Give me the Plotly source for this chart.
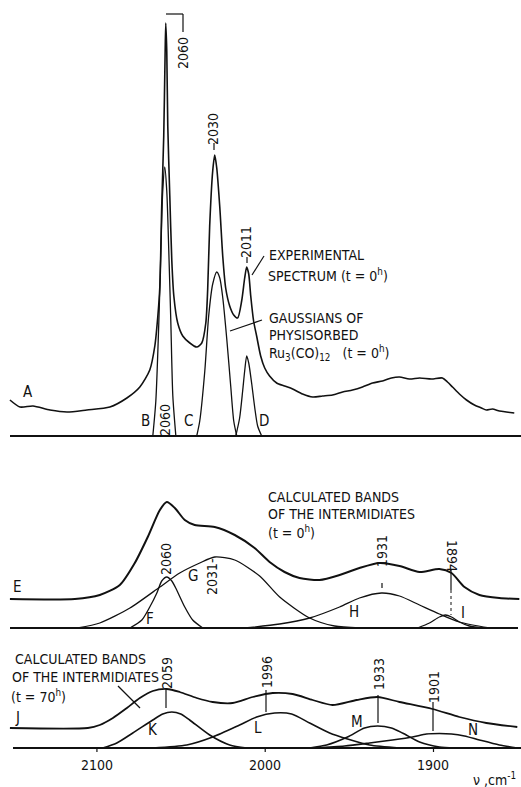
import plotly.graph_objects as go

W, H = 521, 787

# ---------------- data (wavenumber cm-1, intensity in arbitrary units) ----------------
# Panel 1: experimental spectrum A and Gaussians B, C, D of physisorbed Ru3(CO)12 (t = 0 h)
A_wn = [2151.7, 2145.7, 2138.0, 2127.9, 2117.8, 2106.0, 2092.3, 2082.2, 2074.5, 2068.6,
        2065.6, 2063.8, 2062.6, 2061.5, 2060.3, 2059.5, 2059.1, 2058.5, 2057.9, 2056.7,
        2055.5, 2054.3, 2052.0, 2049.0, 2044.8, 2040.7, 2037.7, 2035.3, 2034.2, 2033.0,
        2031.2, 2030.0, 2028.8, 2027.0, 2025.2, 2023.5, 2021.1, 2018.7, 2016.4, 2014.0,
        2012.2, 2011.0, 2009.8, 2008.6, 2006.9, 2005.1, 2002.7, 2000.3, 1997.4, 1993.2,
        1988.5, 1983.7, 1977.8, 1971.8, 1965.9, 1960.0, 1954.0, 1948.1, 1942.2, 1936.2,
        1930.3, 1925.0, 1920.2, 1914.3, 1908.3, 1901.2, 1894.7, 1891.7, 1888.7, 1884.6,
        1880.4, 1875.7, 1871.5, 1868.6, 1865.0, 1860.8, 1856.7, 1852.0]
A_int = [36, 29, 30, 26, 24, 26, 29, 38, 49, 66,
         90, 120, 150, 230, 300, 380, 413, 385, 310, 240,
         175, 140, 113, 100, 93, 89, 93, 113, 146, 210,
         265, 281, 268, 229, 179, 148, 130, 121, 118, 135,
         158, 169, 162, 140, 115, 100, 80, 68, 60, 53,
         50, 47, 42, 39, 40, 41, 44, 46, 49, 53,
         55, 58, 59, 57, 58, 57, 58, 54, 49, 42,
         36, 31, 28, 26, 27, 25, 24, 23]

B_wn = [2066.8, 2065.0, 2063.2, 2062.0, 2060.9, 2059.7, 2058.5, 2057.3, 2056.1, 2054.9, 2053.1]
B_int = [0, 35, 115, 185, 245, 269, 245, 185, 115, 40, 0]

C_wn = [2040.7, 2038.9, 2035.9, 2033.6, 2031.2, 2028.8, 2027.0, 2025.2, 2022.9, 2020.5, 2018.7, 2016.9]
C_int = [0, 15, 65, 120, 152, 164, 158, 138, 98, 50, 15, 0]

D_wn = [2017.5, 2015.2, 2013.4, 2012.2, 2011.0, 2009.8, 2008.0, 2006.2, 2004.5, 2002.1]
D_int = [0, 18, 45, 65, 80, 73, 52, 28, 10, 0]

# Panel 2: calculated bands of the intermediates (t = 0 h): envelope E, bands F, G, H, I
E_wn = [2151.7, 2113.1, 2098.3, 2086.4, 2077.5, 2069.8, 2062.6, 2058.5, 2053.7, 2047.8,
        2041.9, 2030.0, 2018.1, 2006.3, 1997.4, 1988.5, 1979.6, 1967.7, 1955.8, 1944.0,
        1932.1, 1920.2, 1908.3, 1896.5, 1889.3, 1881.6, 1872.7, 1860.9, 1849.0]
E_int = [29, 29, 33, 43, 65, 91, 118, 126, 120, 108,
         103, 101, 93, 80, 66, 56, 50, 48, 53, 60,
         65, 62, 56, 59, 55, 41, 33, 30, 29]

F_wn = [2080.4, 2073.3, 2068.6, 2064.4, 2061.5, 2058.5, 2055.5, 2052.6, 2047.8, 2043.1, 2037.1]
F_int = [0, 8, 21, 35, 47, 51, 47, 38, 21, 8, 0]

G_wn = [2111.3, 2098.3, 2080.4, 2062.6, 2050.8, 2038.9, 2030.0, 2018.1, 2003.3, 1991.4, 1973.6, 1958.8, 1943.9]
G_int = [0, 5, 20, 41, 55, 65, 71, 68, 52, 31, 10, 2, 0]

H_wn = [2012.2, 1991.4, 1973.6, 1955.8, 1944.0, 1930.9, 1920.2, 1908.3, 1896.5, 1884.6, 1866.8]
H_int = [0, 4, 10, 21, 30, 35, 32, 23, 14, 6, 0]

I_wn = [1909.5, 1902.4, 1896.5, 1892.9, 1889.3, 1884.6, 1878.7, 1869.8]
I_int = [0, 5, 11, 13, 11, 6, 2, 0]

# Panel 3: calculated bands of the intermediates (t = 70 h): envelope J, bands K, L, M, N
J_wn = [2151.7, 2105.4, 2098.3, 2090.5, 2082.2, 2074.5, 2066.8, 2058.5, 2050.8, 2040.7,
        2031.2, 2019.3, 2007.4, 1995.6, 1983.7, 1971.8, 1960.0, 1945.7, 1933.3, 1920.2,
        1900.6, 1884.6, 1868.6, 1850.2]
J_int = [20, 20, 23, 30, 40, 50, 57, 59, 56, 50,
         46, 45, 51, 55, 54, 48, 43, 48, 51, 46,
         39, 31, 25, 21]

K_wn = [2096.5, 2088.2, 2078.7, 2066.8, 2060.9, 2055.5, 2050.2, 2044.9, 2033.0, 2021.1, 2011.0]
K_int = [0, 5, 15, 28, 34, 36, 34, 28, 13, 3, 0]

L_wn = [2066.8, 2046.6, 2031.2, 2015.2, 2005.1, 1994.4, 1984.3, 1973.6, 1961.7, 1951.1, 1938.0, 1920.2]
L_int = [0, 3, 11, 23, 31, 35, 34, 25, 15, 9, 3, 0]

M_wn = [1973.6, 1963.5, 1951.1, 1941.0, 1933.3, 1925.0, 1918.4, 1908.3, 1896.5, 1887.6]
M_int = [0, 3, 11, 20, 22, 20, 15, 6, 1, 0]

N_wn = [1970.6, 1952.8, 1938.0, 1924.4, 1912.5, 1904.2, 1896.5, 1889.3, 1881.6, 1872.7, 1860.9, 1850.2]
N_int = [0, 2, 5, 8, 11, 14, 14.5, 14, 12, 8, 3, 0]

tick_vals = [2100, 2000, 1900]
tick_text = ["2100", "2000", "1900"]

# ---------------- layout helpers ----------------
X0, X1 = 2157.6, 1848.0          # wavenumber at left / right page edge

BASE = {1: 787 - 436, 2: 787 - 628, 3: 787 - 748}   # panel baselines (y from bottom)

FONT = "DejaVu Sans Condensed, Liberation Sans Narrow, DejaVu Sans, sans-serif"
INK = "#111111"

fig = go.Figure()

def curve(xs, ys, panel, width=1.3):
    b = BASE[panel]
    fig.add_trace(go.Scatter(x=xs, y=[b + v for v in ys], mode="lines",
                             line=dict(color=INK, width=width, shape="spline", smoothing=0.7),
                             hoverinfo="skip", showlegend=False))

curve(A_wn, A_int, 1, 1.6)
curve(B_wn, B_int, 1)
curve(C_wn, C_int, 1)
curve(D_wn, D_int, 1)
curve(E_wn, E_int, 2, 2.0)
curve(F_wn, F_int, 2)
curve(G_wn, G_int, 2)
curve(H_wn, H_int, 2)
curve(I_wn, I_int, 2)
curve(J_wn, J_int, 3, 1.8)
curve(K_wn, K_int, 3, 1.6)
curve(L_wn, L_int, 3, 1.6)
curve(M_wn, M_int, 3, 1.6)
curve(N_wn, N_int, 3, 1.6)

shapes = []
def seg(x0, y0, x1, y1, w=1.2, dash=None):
    d = dict(type="line", xref="paper", yref="paper",
             x0=x0 / W, x1=x1 / W, y0=1 - y0 / H, y1=1 - y1 / H,
             line=dict(color=INK, width=w))
    if dash:
        d["line"]["dash"] = dash
    shapes.append(d)

# baselines
seg(10, 436, 521, 436, 2.0)
seg(10, 628, 518, 628, 2.0)
seg(13, 748, 521, 748, 2.0)
# x ticks on the bottom axis
for v in tick_vals:
    px = (v - X0) / (X1 - X0) * W
    seg(px, 748, px, 752, 1.2)

# bracket and marker lines
seg(166, 14, 183, 14); seg(183, 14, 183, 32)
seg(214, 143, 214, 150)
seg(247, 257, 247, 263)
seg(264, 256, 252, 275)
seg(262, 320, 230, 331)
seg(382, 583, 382, 588)
seg(451, 570, 451, 590); seg(451, 590, 451, 615, 1.0, "dot")
seg(118, 686, 140, 708)
seg(166, 688, 166, 708)
seg(266, 690, 266, 712)
seg(378, 695, 378, 723)
seg(433, 702, 433, 731)

annotations = []
def txt(s, px, py, size=14, angle=0, xanchor="center"):
    annotations.append(dict(text=s, x=px / W, y=1 - py / H, xref="paper", yref="paper",
                            showarrow=False, textangle=angle, xanchor=xanchor, yanchor="middle",
                            font=dict(family=FONT, size=size, color=INK)))

# panel 1 labels
txt("A", 28, 392, 15); txt("B", 145, 421, 15); txt("C", 188, 421, 15); txt("D", 264, 421, 15)
txt("2060", 165, 420, 14, -90)
txt("2060", 183, 53, 14, -90)
txt("2030", 213, 129, 14, -90)
txt("2011", 246, 242, 14, -90)
txt("EXPERIMENTAL", 267, 255, xanchor="left")
txt("SPECTRUM (t = 0<sup>h</sup>)", 266, 275, xanchor="left")
txt("GAUSSIANS OF", 267, 318, xanchor="left")
txt("PHYSISORBED", 267, 335, xanchor="left")
txt("Ru<sub>3</sub>(CO)<sub>12</sub>   (t = 0<sup>h</sup>)", 267, 353, xanchor="left")

# panel 2 labels
txt("E", 17, 587, 15); txt("F", 150, 619, 15); txt("G", 193, 576, 15); txt("H", 354, 612, 15); txt("I", 463, 613, 15)
txt("2060", 166, 559, 14, -90)
txt("2031-", 212, 577, 14, -90)
txt("1931", 382, 551, 14, -90)
txt("1894", 452, 556, 14, 90)
txt("CALCULATED BANDS", 266, 497, xanchor="left")
txt("OF THE INTERMIDIATES", 266, 514, xanchor="left")
txt("(t = 0<sup>h</sup>)", 266, 532, xanchor="left")

# panel 3 labels
txt("CALCULATED BANDS", 13, 659, xanchor="left")
txt("OF THE INTERMIDIATES", 10, 677, xanchor="left")
txt("(t = 70<sup>h</sup>)", 9, 696, xanchor="left")
txt("J", 17, 718, 15); txt("K", 153, 730, 15); txt("L", 258, 728, 15); txt("M", 357, 722, 15); txt("N", 473, 730, 15)
txt("2059", 167, 673, 14, -90)
txt("1996", 267, 672, 14, -90)
txt("1933", 379, 674, 14, -90)
txt("1901", 434, 687, 14, -90)

# axis tick labels and unit
for v, t in zip(tick_vals, tick_text):
    px = (v - X0) / (X1 - X0) * W
    txt(t, px, 765, 14)
txt("\u03bd ,cm<sup>-1</sup>", 518, 779, 14, 0, "right")

fig.update_layout(
    width=W, height=H, margin=dict(l=0, r=0, t=0, b=0),
    paper_bgcolor="white", plot_bgcolor="white",
    xaxis=dict(range=[X0, X1], visible=False, fixedrange=True),
    yaxis=dict(range=[0, H], visible=False, fixedrange=True),
    shapes=shapes, annotations=annotations, showlegend=False,
)

fig.write_html("out.html")
